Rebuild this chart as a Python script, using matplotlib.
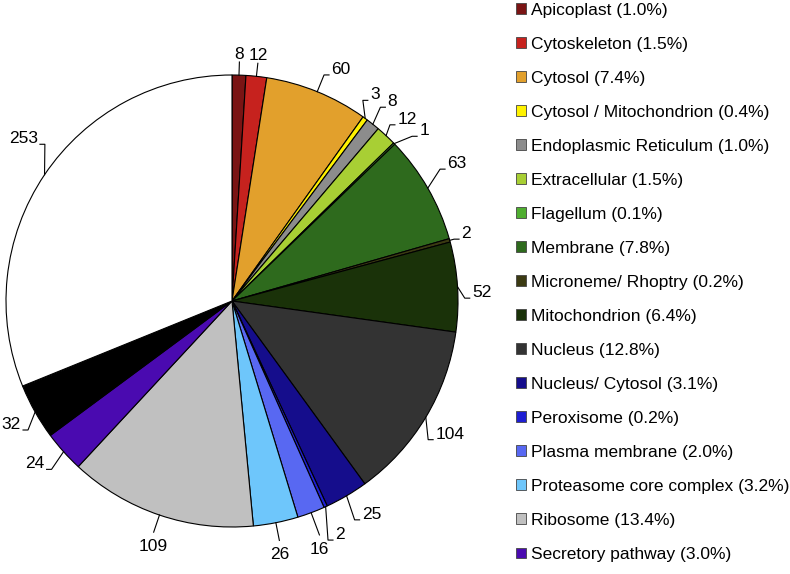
import numpy as np
import matplotlib
matplotlib.use("Agg")
import matplotlib.pyplot as plt
from matplotlib.patches import Patch

plt.rcParams['font.family'] = ['Liberation Sans', 'DejaVu Sans']

# slice data, clockwise from 12 o'clock
categories = ["Apicoplast", "Cytoskeleton", "Cytosol", "Cytosol / Mitochondrion",
              "Endoplasmic Reticulum", "Extracellular", "Flagellum", "Membrane",
              "Microneme/ Rhoptry", "Mitochondrion", "Nucleus", "Nucleus/ Cytosol",
              "Peroxisome", "Plasma membrane", "Proteasome core complex", "Ribosome",
              "Secretory pathway", "Other", "Minor", "Unknown"]
counts = [8, 12, 60, 3, 8, 12, 1, 63, 2, 52, 104, 25, 2, 16, 26, 109, 24, 32, 0.5, 253]
shown_labels = ["8", "12", "60", "3", "8", "12", "1", "63", "2", "52", "104", "25",
                "2", "16", "26", "109", "24", "32", "", "253"]
percent_labels = ["1.0%", "1.5%", "7.4%", "0.4%", "1.0%", "1.5%", "0.1%", "7.8%",
                  "0.2%", "6.4%", "12.8%", "3.1%", "0.2%", "2.0%", "3.2%", "13.4%",
                  "3.0%"]
colors = ["#7a1414", "#c6221e", "#e2a02c", "#fff200", "#8c8c8c", "#a8cf34",
          "#4fae30", "#2e6a1d", "#3b3a12", "#1a3209", "#333333", "#150d8c",
          "#1e1ed2", "#5868f2", "#6ec6fb", "#c0c0c0", "#4a0ab0", "#000000",
          "#ffffff", "#ffffff"]

# label layout tweaks (degrees of rotation, extra radius) for crowded labels
angle_shift = {3: 3.0, 4: 1.1, 5: 1.1, 6: -1.7, 7: 2.4, 9: -2.9, 10: -4.3,
               11: -1.2, 12: -2.6, 16: 1.2, 17: 2.9, 19: -6}
radius_extra = {3: -0.02, 5: -0.033, 7: 0.01, 8: -0.06, 9: -0.05, 10: -0.017,
                11: 0.03, 12: 0.06, 13: 0.025, 16: 0.012, 17: -0.012}

W, H = 790, 574
cx, cy, R = 232, 301, 226

fig = plt.figure(figsize=(W / 100, H / 100), dpi=100)
ax = fig.add_axes([0, 0, 1, 1])

wedges, _ = ax.pie(counts, colors=colors, startangle=90, counterclock=False, radius=1,
                   wedgeprops=dict(edgecolor="black", linewidth=0.8))
ax.set_xlim(-cx / R, (W - cx) / R)
ax.set_ylim(-(H - cy) / R, cy / R)
ax.set_aspect("equal")
ax.axis("off")

fs = 12.5
for i, (w, lab) in enumerate(zip(wedges, shown_labels)):
    if not lab:
        continue
    mid = (w.theta1 + w.theta2) / 2
    ang = np.deg2rad(mid)
    e = np.array([np.cos(ang), np.sin(ang)])
    c = e[0]
    if abs(c) < 0.365:
        # near top / bottom: short straight leader, centred text
        up = e[1] > 0
        r = (1.058 if up else 1.08) + radius_extra.get(i, 0)
        b = e * r
        ax.plot([e[0], b[0]], [e[1], b[1]], color="black", lw=0.8)
        ax.text(b[0], b[1] + (0.0 if up else -0.03), lab, fontsize=fs,
                ha="center", va="bottom" if up else "top")
    else:
        a2 = np.deg2rad(mid + angle_shift.get(i, 0))
        r = 1.08 + radius_extra.get(i, 0)
        b = np.array([np.cos(a2), np.sin(a2)]) * r
        d = 1 if c > 0 else -1
        x2 = b[0] + d * 0.022
        ax.plot([e[0], b[0], x2], [e[1], b[1], b[1]], color="black", lw=0.8)
        ax.text(x2 + d * 0.01, b[1] + 0.025, lab, fontsize=fs,
                ha="left" if d > 0 else "right", va="center")

handles = [Patch(facecolor=colors[i], edgecolor="#444444", linewidth=0.6)
           for i in range(len(percent_labels))]
names = ["%s (%s)" % (categories[i], percent_labels[i]) for i in range(len(percent_labels))]
fig.legend(handles, names, loc="upper left", bbox_to_anchor=(516 / W, 0.995),
           frameon=False, fontsize=12.5, handlelength=0.58, handleheight=0.58,
           handletextpad=0.3, labelspacing=1.095, borderpad=0, borderaxespad=0)

fig.savefig("out.png", dpi=100)
